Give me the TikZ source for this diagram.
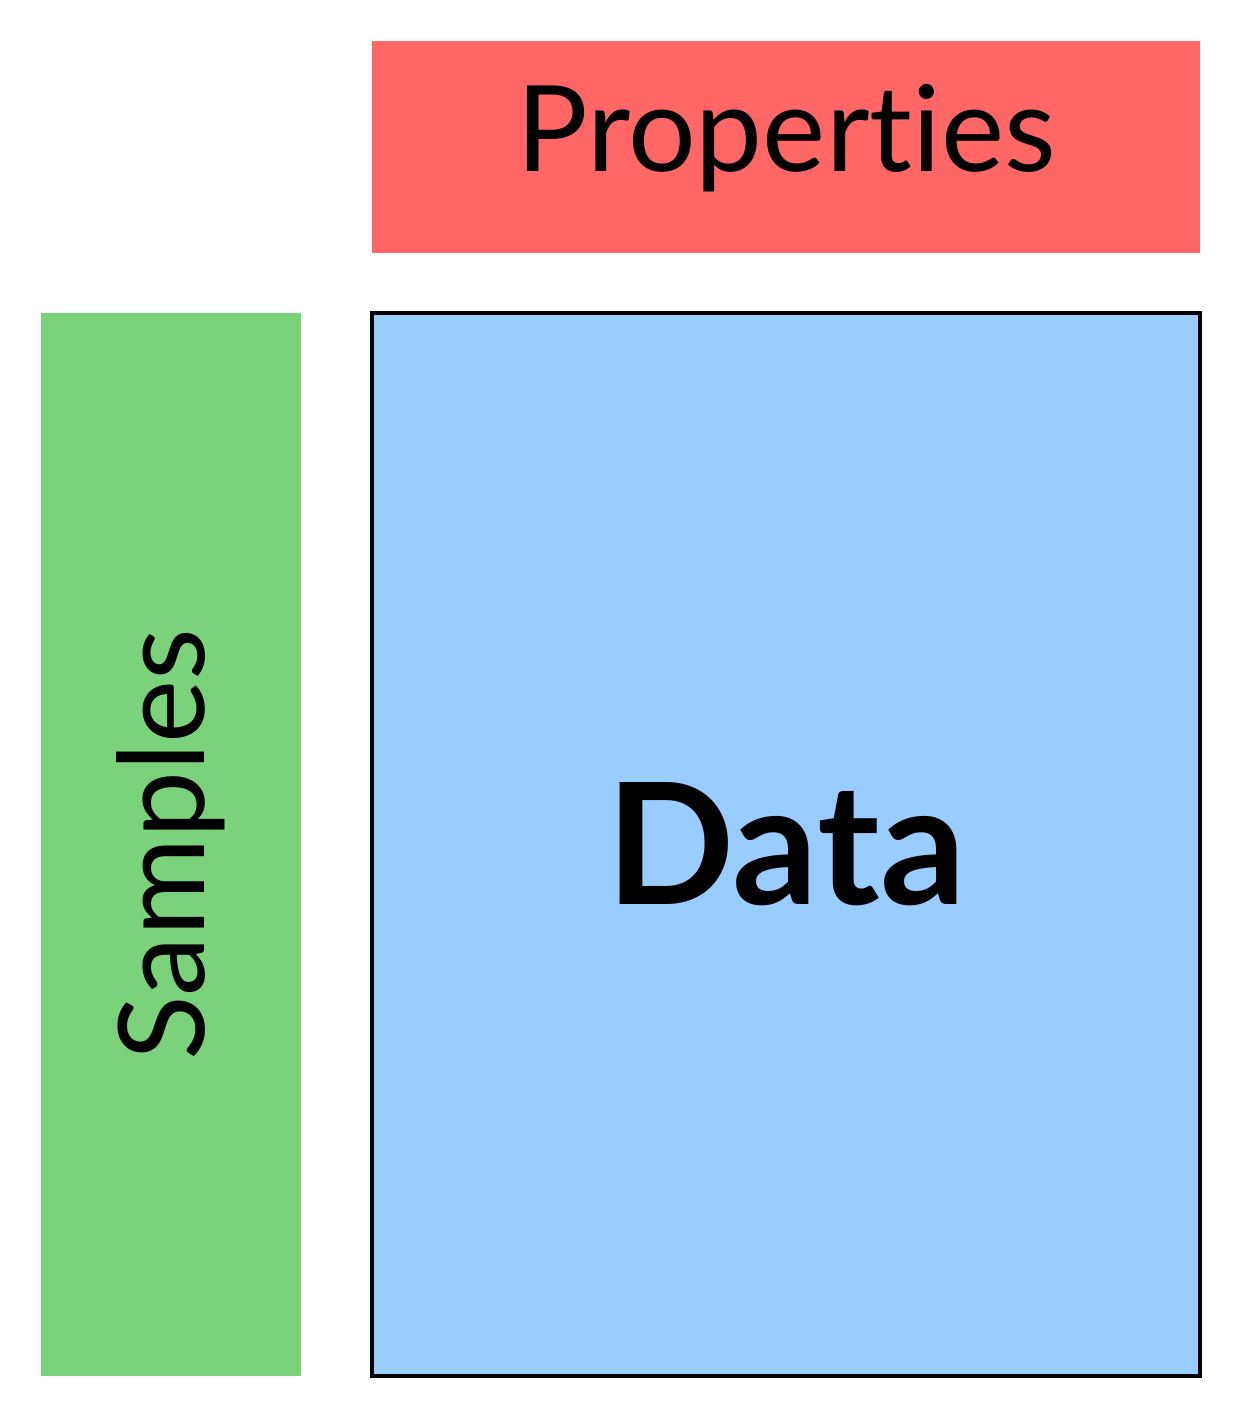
\documentclass[tikz,border=0pt]{standalone}
\usepackage{fontspec}
\setmainfont[Ligatures=NoCommon]{Lato}
\definecolor{propred}{HTML}{FF6666}
\definecolor{samplegreen}{HTML}{7AD37A}
\definecolor{datablue}{HTML}{99CCFF}
\begin{document}
\begin{tikzpicture}[
    block/.style={inner sep=0pt,minimum width=#1},
    ]
    \useasboundingbox (0,0) rectangle (12.41,14.18);
    \node[block=8.28cm,minimum height=2.12cm,fill=propred] (properties) at (7.86,12.71)
        {\raisebox{0.09cm}[\height][\depth]{\fontsize{34}{40}\selectfont Properties}};
    \node[block=2.60cm,minimum height=10.63cm,fill=samplegreen] (samples) at (1.71,5.735)
        {\rotatebox{90}{\fontsize{34}{40}\selectfont Samples}};
    \node[block=8.28cm,minimum height=10.63cm,fill=datablue,draw=black,line width=1.2pt] (data) at (7.86,5.735)
        {\fontsize{48}{58}\selectfont\bfseries Data};
\end{tikzpicture}
\end{document}
